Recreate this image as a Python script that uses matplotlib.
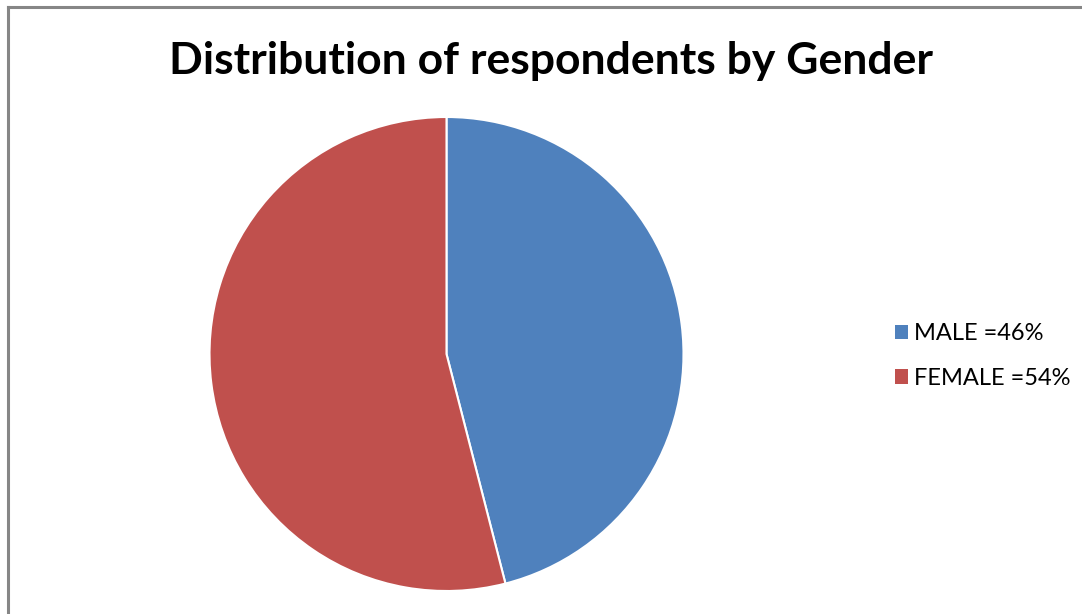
import matplotlib.pyplot as plt
from matplotlib.patches import Patch
from matplotlib.lines import Line2D

labels = ["MALE =46%", "FEMALE =54%"]
shares = [46, 54]
colors = ["#4F81BD", "#C0504D"]

W, H = 1082, 614
fig = plt.figure(figsize=(W / 100, H / 100), dpi=100)

# chart border (the right and bottom edges are cut off in the original)
fig.add_artist(Line2D([8 / W, 8 / W], [0, 1 - 7 / H], color="#868686", lw=2.2))
fig.add_artist(Line2D([8 / W, 1], [1 - 7 / H, 1 - 7 / H], color="#868686", lw=2.2))

fig.text(551 / W, 1 - 61 / H, "Distribution of respondents by Gender",
         ha="center", va="center", fontsize=32, fontweight="bold",
         family="Lato")

r = 237
cx, cy = 446.5, 354
ax = fig.add_axes([(cx - r) / W, (H - cy - r) / H, 2 * r / W, 2 * r / H])
wedges, _ = ax.pie(shares, colors=colors, startangle=90, counterclock=False,
                   radius=1, wedgeprops=dict(edgecolor="white", linewidth=1.5))
ax.set_xlim(-1, 1)
ax.set_ylim(-1, 1)
ax.set_aspect("equal")
ax.axis("off")

handles = [Patch(facecolor=c, edgecolor="none") for c in colors]
fig.legend(handles, labels, loc="center left",
           bbox_to_anchor=(895 / W, 1 - 356 / H), frameon=False,
           borderaxespad=0, borderpad=0,
           prop=dict(family="Lato", size=17), handlelength=0.55, handleheight=0.55,
           handletextpad=0.25, labelspacing=1.0)

fig.savefig("out.png", dpi=100)
